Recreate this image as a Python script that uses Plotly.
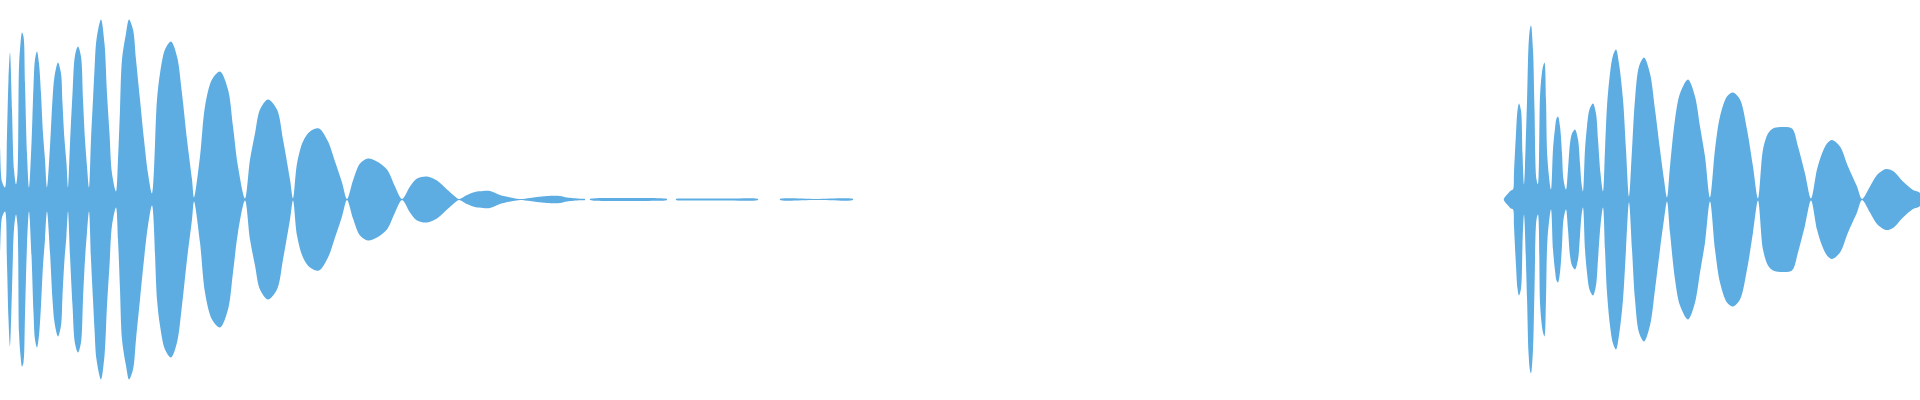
import plotly.graph_objects as go

# Waveform envelope (frame index, amplitude).
# None marks silence (no drawn signal) between segments.
frames = [
    # segment 1: decaying burst
    0, 2, 5, 7, 8.5, 10, 12, 14, 16,
    17.5, 19, 20.5, 22, 23.5, 25, 27, 29,
    31.5, 33.5, 35, 37, 39, 41, 43, 45, 47,
    50, 52.5, 54.5, 58, 61, 62.5, 64.5, 66.5, 68,
    70, 72.5, 75, 78, 81, 83, 85, 87, 89,
    91, 93, 94.5, 96.5, 101, 104.5, 107, 109.5, 112, 116,
    118, 120, 122, 126, 129, 133, 136, 140, 144, 148, 152,
    157, 160, 165, 171, 177, 182, 187, 192, 194,
    200, 205, 212, 220, 228, 233, 238, 245,
    250, 255, 260, 268, 277, 283, 290, 293,
    297, 303, 310, 319, 328, 335, 342, 347,
    353, 360, 368, 377, 387, 395, 402,
    410, 417, 427, 437, 447, 455, 459,
    467, 475, 483, 490, 500, 513, 520,
    530, 537, 547, 560, 567, 580, 585,
    None,
    # faint tail pieces
    590, 597, 627, 657, 667,
    None,
    676, 688, 708, 729, 758,
    None,
    780, 816, 853,
    None,
    # segment 2: second burst
    1504, 1508, 1511, 1513,
    1514, 1516, 1517.5, 1519, 1521, 1522.5, 1524,
    1527, 1528.5, 1530, 1531, 1533, 1534.5, 1536.5, 1538,
    1540, 1541.5, 1543, 1544.5, 1546, 1547.5, 1551,
    1553, 1555, 1556.5, 1558, 1560, 1562, 1563.5, 1566,
    1568, 1570, 1572, 1575, 1578, 1580, 1581.5, 1583,
    1585, 1587, 1589.5, 1593, 1596, 1598, 1600.5, 1603,
    1605, 1607, 1610, 1613, 1616, 1619, 1623, 1626, 1629,
    1632, 1635, 1639, 1644, 1650, 1655, 1660, 1664, 1667,
    1670, 1675, 1680, 1688, 1695, 1700, 1705, 1710,
    1715, 1720, 1727, 1733, 1740, 1747, 1753, 1758,
    1763, 1768, 1773, 1782, 1792, 1798, 1805, 1811,
    1817, 1822, 1827, 1832, 1840, 1848, 1857, 1862,
    1870, 1877, 1886, 1893, 1903, 1913, 1920,
]

amplitude = [
    52, 18, 12, 65, 120, 147, 90, 30, 15,
    26, 133, 156, 167, 163, 116, 46, 12,
    56, 113, 140, 148, 136, 106, 66, 40, 12,
    53, 100, 123, 137, 126, 96, 60, 36, 12,
    56, 106, 144, 153, 143, 100, 60, 33, 12,
    60, 100, 130, 160, 180, 156, 106, 66, 26, 8,
    40, 90, 140, 166, 180, 170, 140, 100, 60, 26, 6,
    100, 126, 150, 158, 143, 106, 60, 20, 2,
    43, 93, 120, 128, 110, 73, 33, 1,
    40, 66, 90, 100, 90, 60, 20, 1,
    36, 58, 68, 71, 58, 38, 17, 0.5,
    19, 36, 41, 38, 30, 13, 0.5,
    13, 21, 23, 19, 10, 3, 0.4,
    4.5, 7.5, 8.5, 8.5, 4.5, 1.5, 0.4,
    1.5, 2.5, 3.5, 3.5, 2, 0.8, 0.5,
    None,
    0.5, 1.3, 1.4, 1.3, 0.5,
    None,
    0.5, 1, 1.1, 1, 0.5,
    None,
    0.5, 0.5, 0.5,
    None,
    1, 6, 9, 10,
    27, 66, 89, 96, 89, 46, 15,
    98, 153, 171, 174, 150, 90, 20, 15,
    103, 123, 133, 137, 100, 40, 10,
    50, 71, 81, 83, 73, 46, 20, 10,
    30, 56, 66, 70, 60, 36, 16, 8,
    50, 73, 90, 96, 86, 60, 26, 8,
    50, 93, 126, 144, 150, 136, 100, 50, 3,
    50, 100, 133, 142, 126, 90, 50, 20, 2,
    33, 80, 106, 120, 103, 73, 43, 2,
    50, 83, 103, 107, 100, 70, 33, 1,
    50, 66, 71, 72.5, 71, 53, 26, 1,
    30, 46, 56, 59.5, 53, 33, 13, 0.5,
    13, 24.5, 30.5, 28.5, 18, 9.5, 6.5,
]

WAVE_COLOR = "#5DADE2"

# Build mirrored polygons (top edge forward, bottom edge back) per segment.
poly_x, poly_y = [], []
seg_x, seg_a = [], []


def flush():
    if seg_x:
        poly_x.extend(seg_x + seg_x[::-1] + [seg_x[0], None])
        poly_y.extend(seg_a + [-a for a in seg_a[::-1]] + [seg_a[0], None])


for f, a in zip(frames, amplitude):
    if f is None:
        flush()
        seg_x, seg_a = [], []
    else:
        seg_x.append(f)
        seg_a.append(a)
flush()

fig = go.Figure(
    go.Scatter(
        x=poly_x,
        y=poly_y,
        mode="lines",
        fill="toself",
        fillcolor=WAVE_COLOR,
        line=dict(color=WAVE_COLOR, width=0, shape="spline", smoothing=0.9),
        hoverinfo="skip",
        showlegend=False,
    )
)

fig.update_layout(
    width=1920,
    height=400,
    margin=dict(l=0, r=0, t=0, b=0),
    paper_bgcolor="white",
    plot_bgcolor="white",
    xaxis=dict(range=[0, 1920], visible=False, fixedrange=True),
    yaxis=dict(range=[-200.5, 199.5], visible=False, fixedrange=True),
)

fig.write_html(
    "out.html",
    config={"displayModeBar": False},
    post_script="document.body.style.margin='0';document.body.style.overflow='hidden';",
)
